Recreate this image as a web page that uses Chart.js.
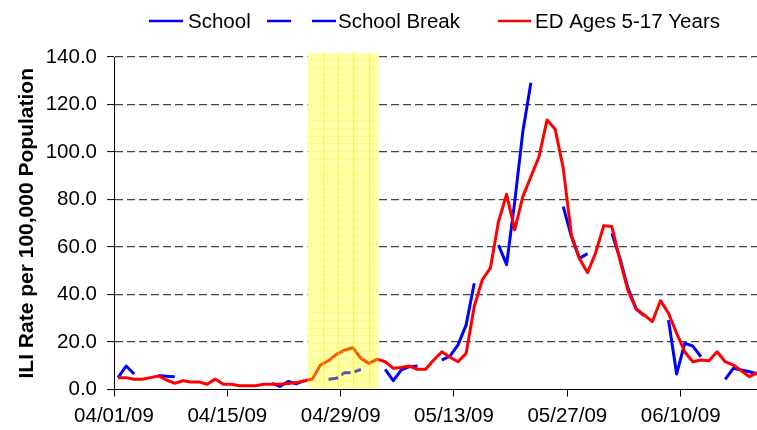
<!DOCTYPE html>
<html><head><meta charset="utf-8">
<script src="https://cdn.jsdelivr.net/npm/chart.js@4.4.1/dist/chart.umd.min.js"></script>
<style>html,body{margin:0;padding:0;background:#fff;}canvas{display:block;}</style>
</head><body>
<canvas id="c" width="757" height="430"></canvas>
<script>
// ---- data (index = days after 04/01/09) ----
const xTickLabels = ["04/01/09","04/15/09","04/29/09","05/13/09","05/27/09","06/10/09"];
const tickEveryDays = 14;
const yTicks = [0,20,40,60,80,100,120,140];
const seriesNames = ["School","School Break","ED Ages 5-17 Years"];
const school = [
 5.0,9.9,6.5,null,null,5.9,5.6,5.4,null,null,
 null,null,null,null,null,null,null,null,null,2.6,
 1.3,3.4,2.4,3.7,null,null,null,null,null,null,
 null,null,null,8.5,3.7,8.3,9.6,9.9,null,null,
 12.4,14.1,18.8,27.2,44.7,null,null,60.8,52.6,79.0,
 108.5,129.2,null,null,null,77.0,64.4,55.2,57.2,null,
 null,65.8,55.2,42.6,34.0,31.0,null,null,29.3,6.5,
 19.4,18.3,13.8,null,null,4.3,8.9,8.2,7.5,6.5];
const schoolBreak = [
 null,null,null,null,null,null,null,null,null,null,
 null,null,null,null,null,null,null,null,null,null,
 null,null,null,null,null,null,4.3,4.7,7.1,7.1,
 8.5,null,null,null,null,null,null,null,null,null,
 null,null,null,null,null,null,null,null,null,null,
 null,null,null,null,null,null,null,null,null,null,
 null,null,null,null,null,null,null,null,null,null,
 null,null,null,null,null,null,null,null,null,null];
const edVisits = [
 5.0,5.0,4.3,4.3,5.0,5.7,4.0,2.6,3.7,3.2,
 3.2,2.2,4.4,2.2,2.2,1.6,1.6,1.6,2.2,2.2,
 2.2,2.5,2.9,3.6,4.4,10.3,12.1,14.9,16.6,17.6,
 13.1,11.0,12.8,11.7,8.9,9.3,9.9,8.5,8.5,12.4,
 15.9,13.6,11.7,15.2,34.9,46.2,51.2,70.7,82.2,67.2,
 81.2,89.6,98.0,113.5,109.6,93.1,65.1,55.2,49.2,57.6,
 69.0,68.6,54.5,41.5,33.8,31.4,28.6,37.4,32.1,23.7,
 15.9,11.7,12.4,12.1,15.9,11.7,10.3,7.9,5.4,7.1];
const breakSpan = [23.9, 32.7];   // shaded school-break period (days after 04/01/09)
const breakTop = 141.7;

const FONT = '"Liberation Sans", Arial, Helvetica, sans-serif';
const toPts = arr => arr.map((v,i) => ({x: i + 0.5, y: v}));

const breakPlugin = {
  id: 'breakBand',
  beforeDatasetsDraw(chart) {
    const {ctx, scales:{x, y}} = chart;
    const x0 = x.getPixelForValue(breakSpan[0]), x1 = x.getPixelForValue(breakSpan[1]);
    const t = y.getPixelForValue(breakTop), b = y.getPixelForValue(0) - 0.6;
    ctx.save(); ctx.fillStyle = '#fff'; ctx.fillRect(x0, t, x1 - x0, b - t); ctx.restore();
  },
  afterDatasetsDraw(chart) {
    const {ctx, scales:{x, y}} = chart;
    const x0 = x.getPixelForValue(breakSpan[0]), x1 = x.getPixelForValue(breakSpan[1]);
    const t = y.getPixelForValue(breakTop), b = y.getPixelForValue(0) - 0.6;
    ctx.save();
    ctx.fillStyle = 'rgba(255,255,0,0.34)';
    ctx.fillRect(x0, t, x1 - x0, b - t);
    ctx.beginPath(); ctx.rect(x0, t, x1 - x0, b - t); ctx.clip();
    ctx.lineWidth = 1;
    ctx.strokeStyle = 'rgba(240,240,0,0.5)';
    ctx.beginPath();
    for (let px = x0 + 15.3; px < x1; px += 15.3) { ctx.moveTo(Math.round(px)+0.5, t); ctx.lineTo(Math.round(px)+0.5, b); }
    ctx.stroke();
    ctx.strokeStyle = 'rgba(245,245,0,0.25)';
    ctx.beginPath();
    for (let py = b - 7.67; py > t; py -= 7.67) { ctx.moveTo(x0, Math.round(py)+0.5); ctx.lineTo(x1, Math.round(py)+0.5); }
    ctx.stroke();
    ctx.restore();
  }
};

const legendPlugin = {
  id: 'customLegend',
  afterDraw(chart) {
    const ctx = chart.ctx;
    const items = [
      {name: seriesNames[0], color: '#0000ff', segs: [[149,183]], tx: 188},
      {name: seriesNames[1], color: '#0000ff', segs: [[267,291],[312,336]], tx: 338},
      {name: seriesNames[2], color: '#ff0000', segs: [[498,531]], tx: 535}
    ];
    ctx.save();
    ctx.font = '20.5px ' + FONT;
    ctx.textBaseline = 'alphabetic';
    items.forEach(it => {
      ctx.strokeStyle = it.color; ctx.lineWidth = 2.5;
      it.segs.forEach(s => { ctx.beginPath(); ctx.moveTo(s[0], 21); ctx.lineTo(s[1], 21); ctx.stroke(); });
      ctx.fillStyle = '#000';
      ctx.fillText(it.name, it.tx, 28);
    });
    ctx.restore();
  }
};

Chart.defaults.color = '#000';
new Chart(document.getElementById('c'), {
  type: 'line',
  data: {
    datasets: [
      {label: seriesNames[2], data: toPts(edVisits), borderColor: '#ff0000', borderWidth: 3, order: 0},
      {label: seriesNames[0], data: toPts(school), borderColor: '#0000ff', borderWidth: 3, order: 1},
      {label: seriesNames[1], data: toPts(schoolBreak), borderColor: '#0000ff', borderWidth: 3, borderDash: [10,4], order: 2}
    ]
  },
  options: {
    responsive: false, animation: false, devicePixelRatio: 1,
    layout: {padding: {top: 57, right: 0, bottom: 0, left: 0}},
    elements: {point: {radius: 0, hoverRadius: 0}, line: {tension: 0, borderJoinStyle: 'round', fill: false}},
    spanGaps: false,
    plugins: {legend: {display: false}, tooltip: {enabled: false}},
    scales: {
      x: {
        type: 'linear', min: 0, max: 79.43,
        afterBuildTicks: s => { s.ticks = xTickLabels.map((_, k) => ({value: k * tickEveryDays})); },
        afterFit: s => { s.height = 40.5; },
        ticks: {autoSkip: false, maxRotation: 0, includeBounds: false, padding: 8,
                font: {family: FONT, size: 20.5},
                callback: v => xTickLabels[Math.round(v / tickEveryDays)]},
        grid: {drawOnChartArea: false, drawTicks: true, tickLength: 7, tickColor: '#000', tickWidth: 1},
        border: {display: true, color: '#000', width: 1}
      },
      y: {
        min: 0, max: 140,
        afterBuildTicks: s => { s.ticks = yTicks.map(v => ({value: v})); },
        afterFit: s => { s.width = 114; },
        ticks: {padding: 10, font: {family: FONT, size: 20.5}, callback: v => Number(v).toFixed(1)},
        grid: {color: c => (c.tick && c.tick.value === 0) ? 'rgba(0,0,0,0)' : '#444',
               lineWidth: 1.2, tickLength: 7, tickColor: '#000', tickWidth: 1, tickBorderDash: []},
        border: {display: true, color: '#000', width: 1, dash: [8,4]},
        title: {display: true, text: 'ILI Rate per 100,000 Population',
                font: {family: FONT, size: 21, weight: 'bold'}, padding: {top: 15, bottom: 0}}
      }
    }
  },
  plugins: [breakPlugin, legendPlugin]
});
</script>
</body></html>
